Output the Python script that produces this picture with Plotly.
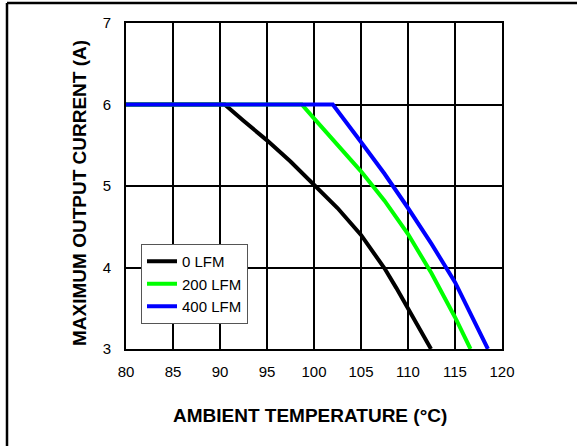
import plotly.graph_objects as go

# Derating curves
temp_0lfm = [80, 90.5, 92.5, 95, 97.5, 100, 102.5, 105, 106.25, 107.5, 108.75, 110, 111.25, 112.45]
amps_0lfm = [6.0, 6.0, 5.80, 5.56, 5.30, 5.02, 4.73, 4.40, 4.20, 3.99, 3.75, 3.50, 3.25, 3.0]

temp_200lfm = [80, 98.7, 100, 102.5, 105, 107.5, 110, 112.5, 115, 116.65]
amps_200lfm = [6.0, 6.0, 5.83, 5.505, 5.18, 4.82, 4.41, 3.93, 3.39, 3.0]

temp_400lfm = [80, 102, 105, 107.5, 110, 112.5, 115, 117.5, 118.5]
amps_400lfm = [6.0, 6.0, 5.54, 5.15, 4.73, 4.29, 3.82, 3.25, 3.0]

series = [
    ("0 LFM", temp_0lfm, amps_0lfm, "#000000"),
    ("200 LFM", temp_200lfm, amps_200lfm, "#00ff00"),
    ("400 LFM", temp_400lfm, amps_400lfm, "#0000ff"),
]

W, H = 577, 446
L, R, T, B = 126, 75, 23, 97
PW, PH = W - L - R, H - T - B


def px_x(px):
    return (px - L) / PW


def px_y(py):
    return (H - B - py) / PH


FONT = "Liberation Sans, Arial, sans-serif"

fig = go.Figure()
for name, xs, ys, color in series:
    fig.add_trace(go.Scatter(
        x=xs, y=ys, mode="lines", name=name,
        line=dict(color=color, width=4),
    ))

axis_common = dict(
    showgrid=True, gridcolor="#000000", gridwidth=1.5,
    showline=True, linecolor="#000000", linewidth=2, mirror=True,
    zeroline=False, ticks="", tickfont=dict(family=FONT, size=15, color="#000000"),
)

fig.update_layout(
    width=W, height=H,
    margin=dict(l=L, r=R, t=T, b=B, autoexpand=False),
    paper_bgcolor="white", plot_bgcolor="white",
    font=dict(family=FONT, color="#000000"),
    xaxis=dict(range=[80, 120], dtick=5, tick0=80, ticklabelstandoff=8, **axis_common),
    yaxis=dict(range=[3, 7], dtick=1, tick0=3, ticklabelstandoff=10, **axis_common),
    showlegend=True,
    legend=dict(
        x=px_x(141), y=px_y(244), xanchor="left", yanchor="top",
        bgcolor="white", bordercolor="#555555", borderwidth=1,
        font=dict(family=FONT, size=15, color="#000000"),
        itemwidth=30, tracegroupgap=0,
    ),
    annotations=[
        dict(text="<b>AMBIENT TEMPERATURE (°C)</b>", xref="paper", yref="paper",
             x=px_x(310), y=px_y(415), xanchor="center", yanchor="middle",
             showarrow=False, font=dict(family=FONT, size=19, color="#000000")),
        dict(text="<b>MAXIMUM OUTPUT CURRENT (A)</b>", xref="paper", yref="paper",
             x=px_x(79), y=px_y(193), xanchor="center", yanchor="middle", textangle=-90,
             showarrow=False, font=dict(family=FONT, size=19, color="#000000")),
    ],
    shapes=[
        dict(type="line", xref="paper", yref="paper",
             x0=px_x(7), x1=px_x(W + 2), y0=px_y(3), y1=px_y(3),
             line=dict(color="#000000", width=2.5)),
        dict(type="line", xref="paper", yref="paper",
             x0=px_x(7), x1=px_x(7), y0=px_y(3), y1=px_y(H + 2),
             line=dict(color="#000000", width=2.5)),
    ],
)

# drop the browser's default body margin so the figure sits at the page origin
fig.write_html(
    "out.html",
    config={"displayModeBar": False},
    post_script="document.body.style.margin='0px';",
)
